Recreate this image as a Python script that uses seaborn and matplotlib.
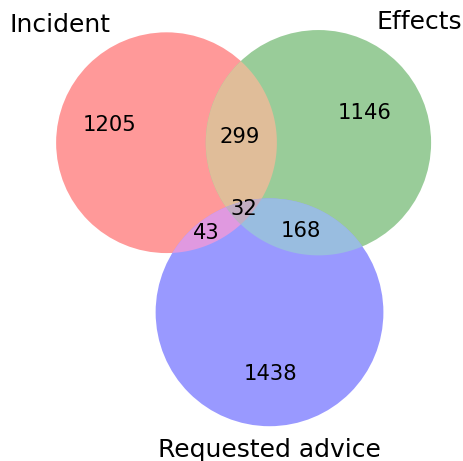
import numpy as np
import matplotlib
matplotlib.use("Agg")
import matplotlib.pyplot as plt
from matplotlib.patches import Circle, Polygon
import seaborn as sns

# ---- data ----
set_labels = ["Incident", "Effects", "Requested advice"]
region_keys = ["100", "010", "110", "001", "101", "011", "111"]
region_sizes = [1205, 1146, 299, 1438, 43, 168, 32]
set_colors = [(1.0, 0.0, 0.0), (0.0, 0.5, 0.0), (0.0, 0.0, 1.0)]

sns.set_theme(style="white")
plt.rcParams["font.family"] = ["DejaVu Sans"]
plt.rcParams["text.color"] = "black"

sizes = dict(zip(region_keys, region_sizes))
total = float(sum(region_sizes))


def set_area(i):
    return sum(v for k, v in sizes.items() if k[i] == "1") / total


def pair_area(i, j):
    return sum(v for k, v in sizes.items() if k[i] == "1" and k[j] == "1") / total


def lens_area(r1, r2, d):
    if d >= r1 + r2:
        return 0.0
    if d <= abs(r1 - r2):
        return np.pi * min(r1, r2) ** 2
    a1 = r1 ** 2 * np.arccos((d ** 2 + r1 ** 2 - r2 ** 2) / (2 * d * r1))
    a2 = r2 ** 2 * np.arccos((d ** 2 + r2 ** 2 - r1 ** 2) / (2 * d * r2))
    a3 = 0.5 * np.sqrt((-d + r1 + r2) * (d + r1 - r2) * (d - r1 + r2) * (d + r1 + r2))
    return a1 + a2 - a3


def find_distance(r1, r2, target):
    lo, hi = abs(r1 - r2), r1 + r2
    for _ in range(200):
        mid = 0.5 * (lo + hi)
        if lens_area(r1, r2, mid) > target:
            lo = mid
        else:
            hi = mid
    return 0.5 * (lo + hi)


radii = [np.sqrt(set_area(i) / np.pi) for i in range(3)]
d_ab = find_distance(radii[0], radii[1], pair_area(0, 1))
d_ac = find_distance(radii[0], radii[2], pair_area(0, 2))
d_bc = find_distance(radii[1], radii[2], pair_area(1, 2))
cx = (d_ab ** 2 + d_ac ** 2 - d_bc ** 2) / (2 * d_ab)
cy = -np.sqrt(max(d_ac ** 2 - cx ** 2, 0))
centers = [np.array([0.0, 0.0]), np.array([d_ab, 0.0]), np.array([cx, cy])]

# colors as in matplotlib-venn (alpha 0.4 over white -> opaque)
base = [np.array(c) for c in set_colors]


def mix(*cols):
    if len(cols) == 2:
        m = 0.7 * (cols[0] + cols[1])
    else:
        m = 0.4 * (cols[0] + cols[1] + cols[2])
    return np.minimum(m, 1.0)


def flat(c, alpha=0.4):
    return tuple(1 - alpha + alpha * np.asarray(c))


region_colors = {
    "100": flat(base[0]), "010": flat(base[1]), "001": flat(base[2]),
    "110": flat(mix(base[0], base[1])), "101": flat(mix(base[0], base[2])),
    "011": flat(mix(base[1], base[2])), "111": flat(mix(base[0], base[1], base[2])),
}

# ---- figure with pixel mapping ----
W, H = 463, 461
scale = 324.0          # pixels per unit
anchor_px = (166.5, 142.7)  # pixel position of first circle centre

fig = plt.figure(figsize=(W / 100, H / 100), dpi=100)
ax = fig.add_axes([0, 0, 1, 1])
x0 = centers[0][0] - anchor_px[0] / scale
y1 = centers[0][1] + anchor_px[1] / scale
ax.set_xlim(x0, x0 + W / scale)
ax.set_ylim(y1 - H / scale, y1)
ax.axis("off")


def px(x, y):
    return x0 + x / scale, y1 - y / scale


def intersection_polygon(idx):
    pts = []
    t = np.linspace(0, 2 * np.pi, 3000, endpoint=False)
    for i in idx:
        p = centers[i] + radii[i] * np.column_stack([np.cos(t), np.sin(t)])
        ok = np.ones(len(p), bool)
        for j in idx:
            if j != i:
                ok &= np.linalg.norm(p - centers[j], axis=1) <= radii[j] + 1e-12
        pts.append(p[ok])
    pts = np.vstack(pts)
    m = pts.mean(axis=0)
    order = np.argsort(np.arctan2(pts[:, 1] - m[1], pts[:, 0] - m[0]))
    return pts[order]


single = ["100", "010", "001"]
for i in range(3):
    ax.add_patch(Circle(centers[i], radii[i], facecolor=region_colors[single[i]],
                        edgecolor="none", zorder=1))
for key, idx in [("110", (0, 1)), ("101", (0, 2)), ("011", (1, 2))]:
    ax.add_patch(Polygon(intersection_polygon(idx), closed=True,
                         facecolor=region_colors[key], edgecolor="none", zorder=2))
ax.add_patch(Polygon(intersection_polygon((0, 1, 2)), closed=True,
                     facecolor=region_colors["111"], edgecolor="none", zorder=3))

# subset labels (pixel anchors: centre x, baseline y)
label_px = {"100": (110, 130.7), "010": (364.5, 119.3), "110": (240, 142.7),
            "001": (270.8, 380), "101": (206.2, 239), "011": (300.8, 236.7),
            "111": (243.5, 215)}
for k in region_keys:
    x, y = px(*label_px[k])
    ax.text(x, y, str(sizes[k]), ha="center", va="baseline", fontsize=15.2,
            color="black", zorder=5)

# set labels
x, y = px(110.5, 32.3)
ax.text(x, y, set_labels[0], ha="right", va="baseline", fontsize=18,
        color="black", zorder=5)
x, y = px(376.5, 29.3)
ax.text(x, y, set_labels[1], ha="left", va="baseline", fontsize=18,
        color="black", zorder=5)
x, y = px(269, 456.7)
ax.text(x, y, set_labels[2], ha="center", va="baseline", fontsize=18,
        color="black", zorder=5)

fig.savefig("out.png", dpi=100, facecolor="white")
